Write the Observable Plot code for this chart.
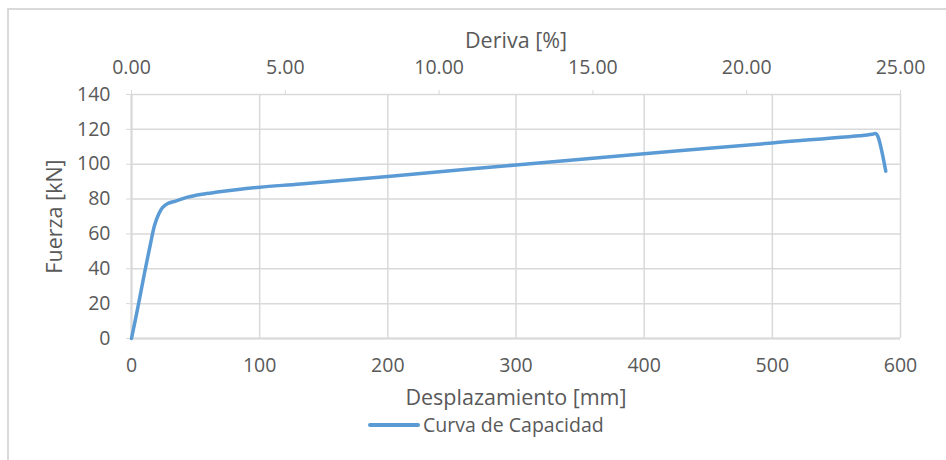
<!DOCTYPE html>
<html>
<head>
<meta charset="utf-8">
<script src="https://cdn.jsdelivr.net/npm/d3@7"></script>
<script src="https://cdn.jsdelivr.net/npm/@observablehq/plot@0.6"></script>
<style>
  html, body { margin: 0; padding: 0; background: #fff; }
  #wrap { position: relative; width: 946px; height: 460px; overflow: hidden; font-family: "Open Sans", sans-serif; }
  #frame { position: absolute; left: 7px; top: 8px; width: 960px; height: 470px; border-left: 2px solid #d9d9d9; border-top: 2px solid #d9d9d9; box-sizing: border-box; pointer-events: none; }
  #legend { position: absolute; left: 368px; top: 411px; display: flex; align-items: center; font-size: 19.5px; color: #595959; }
  #legend svg { margin-right: 3px; }
</style>
</head>
<body>
<div id="wrap"><div id="frame"></div><div id="chart"></div>
<div id="legend"><svg width="52" height="8"><line x1="2" x2="50" y1="4" y2="4" stroke="#5b9bd5" stroke-width="4" stroke-linecap="round"/></svg><span>Curva de Capacidad</span></div>
</div>
<script>
// Data
const desplazamiento = [0, 5, 10, 15, 18, 21, 24, 28, 35, 43, 55, 67, 80, 100, 132, 200, 300, 400, 500, 574, 578, 580.5, 582, 588.5];
const fuerza =         [0, 18, 37, 55, 65, 71, 75, 77.3, 79, 81, 82.8, 84, 85.2, 86.8, 88.7, 93, 99.6, 106, 112.2, 116.8, 117.2, 117.6, 116.5, 96];
const xTicks = [0, 100, 200, 300, 400, 500, 600];
const yTicks = [0, 20, 40, 60, 80, 100, 120, 140];
const derivaTicks = [0, 5, 10, 15, 20, 25];   // %
const derivaMax = 25;                          // % at 600 mm
const xMax = 600;

const data = desplazamiento.map((d, i) => ({x: d, y: fuerza[i]}));
const grid = "#d9d9d9";
const txt = "#595959";

const chart = Plot.plot({
  width: 946,
  height: 460,
  marginLeft: 131,
  marginRight: 46,
  marginTop: 94,
  marginBottom: 122,
  style: {fontFamily: "'Open Sans', sans-serif", fontSize: "19px", color: txt, background: "transparent"},
  x: {domain: [0, xMax]},
  y: {domain: [0, 140]},
  marks: [
    Plot.gridX(xTicks, {stroke: grid, strokeOpacity: 1, strokeWidth: 1.5}),
    Plot.gridY(yTicks, {stroke: grid, strokeOpacity: 1, strokeWidth: 1.5}),
    Plot.ruleX([0], {stroke: grid, strokeWidth: 2}),
    Plot.ruleY([0], {stroke: grid, strokeWidth: 2}),
    Plot.axisY({ticks: yTicks, tickSize: 5, tickPadding: 16, stroke: grid, fill: txt, fontSize: 19.5, label: null}),
    Plot.axisX({anchor: "bottom", ticks: xTicks, tickSize: 0, tickPadding: 20, fill: txt, fontSize: 19.5, label: null}),
    Plot.axisX({anchor: "top", ticks: derivaTicks.map(p => p * xMax / derivaMax), tickFormat: d => (d * derivaMax / xMax).toFixed(2), tickSize: 5, tickPadding: 16, stroke: grid, fill: txt, fontSize: 19.5, label: null}),
    Plot.text(["Deriva [%]"], {frameAnchor: "top", dy: -62, fill: txt, fontSize: 21.5}),
    Plot.text(["Desplazamiento [mm]"], {frameAnchor: "bottom", dy: 66, fill: txt, fontSize: 21.5}),
    Plot.text(["Fuerza [kN]"], {frameAnchor: "left", dx: -76, rotate: -90, textAnchor: "middle", fill: txt, fontSize: 21.5}),
    Plot.line(data, {x: "x", y: "y", stroke: "#5b9bd5", strokeWidth: 3.5, curve: "catmull-rom"})
  ]
});
document.getElementById("chart").appendChild(chart);
</script>
</body>
</html>
